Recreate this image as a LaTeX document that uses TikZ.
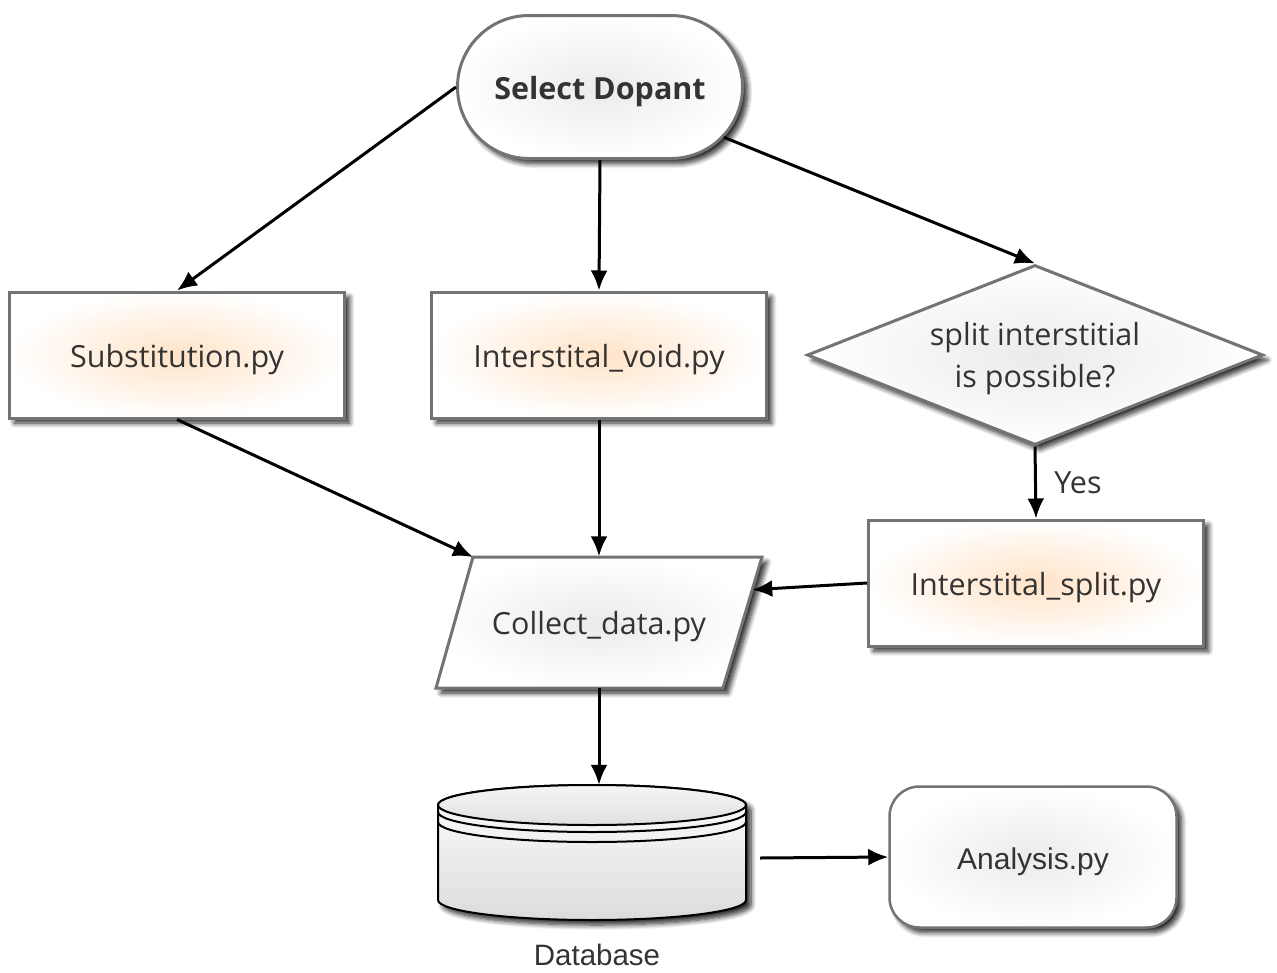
\documentclass[tikz,border=0pt]{standalone}
\usepackage{fontspec}
\setmainfont{Open Sans}
\newfontfamily\arialfont{Liberation Sans}
\usetikzlibrary{shapes.geometric,shapes.misc,shadows.blur,arrows.meta,calc}
\begin{document}
\begin{tikzpicture}[x=1pt,y=-1pt,
  shad/.style={blur shadow={shadow xshift=5pt,shadow yshift=-5pt,shadow blur steps=8,shadow blur radius=5pt,shadow opacity=85}},
  txt/.style={text=black!80,font=\fontsize{30.5}{36}\selectfont},
  lowered/.style={text height=25pt,text depth=0pt},
  base/.style={draw=black!55,line width=3pt,txt,shad,inner sep=0pt},
  orangebox/.style={base,lowered,rectangle,minimum width=335,minimum height=126,inner color=orange!22,outer color=white},
  arr/.style={-{Latex[length=20pt,width=17pt]},line width=3pt,black}
]
\useasboundingbox (0,0) rectangle (1277,972);

\node[base,lowered,rounded rectangle,minimum width=285,minimum height=143,inner color=black!8,outer color=white,
      font=\bfseries\fontsize{30.5}{36}\selectfont] (sel) at (600,87) {Select Dopant};

\node[orangebox] (sub) at (177,355) {Substitution.py};
\node[orangebox] (void) at (599,355) {Interstital\_void.py};
\node[base,diamond,aspect=2.53,minimum width=456,minimum height=180,inner color=black!8,outer color=white,
      text depth=0pt,align=center,font=\fontsize{30.5}{42}\selectfont] (dia) at (1035,355) {split interstitial\\is possible?};
\node[orangebox] (split) at (1036,583) {Interstital\_split.py};

% parallelogram (Collect_data.py)
\coordinate (cdTL) at (473,557);
\coordinate (cdTR) at (762,557);
\coordinate (cdBR) at (723,688);
\coordinate (cdBL) at (436,688);
\path[shad,draw=black!55,line width=3pt,inner color=black!8,outer color=white]
  (cdTL) -- (cdTR) -- (cdBR) -- (cdBL) -- cycle;
\node[txt,lowered,minimum width=326,minimum height=131,inner sep=0pt] (cd) at (599,622) {Collect\_data.py};

\node[base,lowered,rectangle,rounded corners=30pt,line width=2.5pt,minimum width=287,minimum height=141,
      inner color=black!8,outer color=white,font=\arialfont\fontsize{30}{36}\selectfont] (ana) at (1033,857) {Analysis.py};

% database cylinder
\node[minimum width=308,minimum height=146,inner sep=0pt] (db) at (592,858) {};
\path[shad,draw=black,line width=2pt,top color=white,bottom color=black!14]
  (438,805) -- (438,900) arc[start angle=180,end angle=0,x radius=154,y radius=20]
  -- (746,805) arc[start angle=0,end angle=-180,x radius=154,y radius=20] -- cycle;
\draw[line width=2pt,top color=black!4,bottom color=black!12] (592,805) ellipse[x radius=154,y radius=20];
\draw[line width=2pt] (438,812) arc[start angle=180,end angle=0,x radius=154,y radius=20];
\draw[line width=2pt] (438,822) arc[start angle=180,end angle=0,x radius=154,y radius=20];
\node[text=black!80,font=\arialfont\fontsize{29.5}{36}\selectfont] (dblabel) at (597,955) {Database};

% connectors
\draw[arr] (sel.west) -- (sub.north);
\draw[arr] (sel.south) -- (void.north);
\draw[arr] (sel) -- (dia.north);
\draw[arr] (sub.south) -- (cdTL);
\draw[arr] (void.south) -- (void.south |- cd.north);
\draw[arr] (dia.south) -- node[right=14pt,txt] (yes) {Yes} (split.north);
\draw[arr] (split.west) -- ($(cdTR)!0.25!(cdBR)$);
\draw[arr] (cd.south -| void.south) -- (db.north -| void.south);
\draw[arr] ([xshift=14pt]db.east) -- (ana.west);
\end{tikzpicture}
\end{document}
